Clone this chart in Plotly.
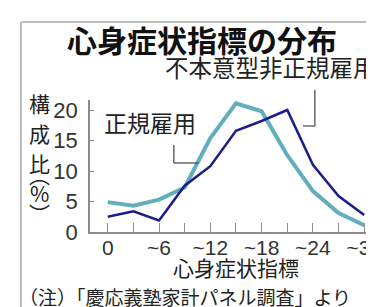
import plotly.graph_objects as go

# ---- data ----
x_vals = [0, 3, 6, 9, 12, 15, 18, 21, 24, 27, 30]
tick_text = ["0", "", "~6", "", "~12", "", "~18", "", "~24", "", "~30"]
regular = [4.9, 4.3, 5.3, 7.3, 15.4, 21.1, 19.8, 12.6, 6.7, 3.1, 1.1]        # 正規雇用
involuntary = [2.5, 3.4, 1.9, 7.6, 10.8, 16.6, 18.2, 20.0, 11.0, 5.9, 2.8]   # 不本意型非正規雇用
y_ticks = [0, 5, 10, 15, 20]

W, H = 374, 307
L, T, R, B = 82, 92, 0, 83
PW, PH = W - L - R, H - T - B

def px(x):
    return (x - L) / PW

def py(y):
    return (H - B - y) / PH

CJK = "Noto Sans CJK JP, Noto Sans, sans-serif"
NUM = "Liberation Sans, Arial, sans-serif"
GRAY = "#8c8c8c"

fig = go.Figure()
fig.add_trace(go.Scatter(x=x_vals, y=regular, mode="lines",
                         line=dict(color="#62aebd", width=4), name="正規雇用",
                         hoverinfo="skip"))
fig.add_trace(go.Scatter(x=x_vals, y=involuntary, mode="lines",
                         line=dict(color="#1c1c8a", width=2.5), name="不本意型非正規雇用",
                         hoverinfo="skip"))

annotations = []
def txt(t, x, y, size, xanchor="center", bold=False, color="#222"):
    annotations.append(dict(text=("<b>%s</b>" % t) if bold else t,
                            x=px(x), y=py(y), xref="paper", yref="paper",
                            xanchor=xanchor, yanchor="middle", showarrow=False,
                            font=dict(family=CJK, size=size, color=color)))

txt("心身症状指標の分布", 196, 31, 30, bold=True, color="#111")
txt("不本意型非正規雇用", 156, 59, 23.5, xanchor="left")
txt("正規雇用", 143, 114, 23)
txt("心身症状指標", 230, 259, 21)
txt("（注）「慶応義塾家計パネル調査」より", 8, 288, 19, xanchor="left")
for ch, yy in [("構", 95), ("成", 125), ("比", 155), ("︵", 166), ("%", 185), ("︶", 205)]:
    txt(ch, 31, yy, 21)

shapes = []
def seg(x0, y0, x1, y1, color="#444", width=1.2):
    shapes.append(dict(type="line", xref="paper", yref="paper",
                       x0=px(x0), y0=py(y0), x1=px(x1), y1=py(y1),
                       line=dict(color=color, width=width)))

# frame
seg(12, 14, 400, 14, color="#a8a8a8", width=1.5)
seg(12, 14, 12, 320, color="#a8a8a8", width=1.5)
# leaders
seg(310, 82, 310, 118)
seg(298, 118, 310, 118)
seg(167, 137, 167, 155)
seg(167, 155, 192, 155)

fig.update_layout(
    width=W, height=H,
    margin=dict(l=L, r=R, t=T, b=B, pad=0),
    paper_bgcolor="white", plot_bgcolor="white",
    showlegend=False,
    annotations=annotations, shapes=shapes,
    xaxis=dict(range=[(L - 100) / (26 / 3), (W - 100) / (26 / 3)],
               tickvals=x_vals, ticktext=tick_text,
               ticks="inside", ticklen=9, tickcolor=GRAY, tickwidth=1.2,
               showline=True, linecolor=GRAY, linewidth=1.5,
               showgrid=False, zeroline=False,
               tickfont=dict(family=NUM, size=21, color="#333"),
               ticklabeloverflow="allow",
               ticklabelstandoff=-4),
    yaxis=dict(range=[0, 132 / 6.1],
               tickvals=y_ticks, ticks="inside", ticklen=4, tickcolor=GRAY,
               showline=True, linecolor=GRAY, linewidth=1.5,
               showgrid=False, zeroline=False,
               tickfont=dict(family=NUM, size=22, color="#333"),
               ticklabelstandoff=6),
)

fig.write_html("out.html")
